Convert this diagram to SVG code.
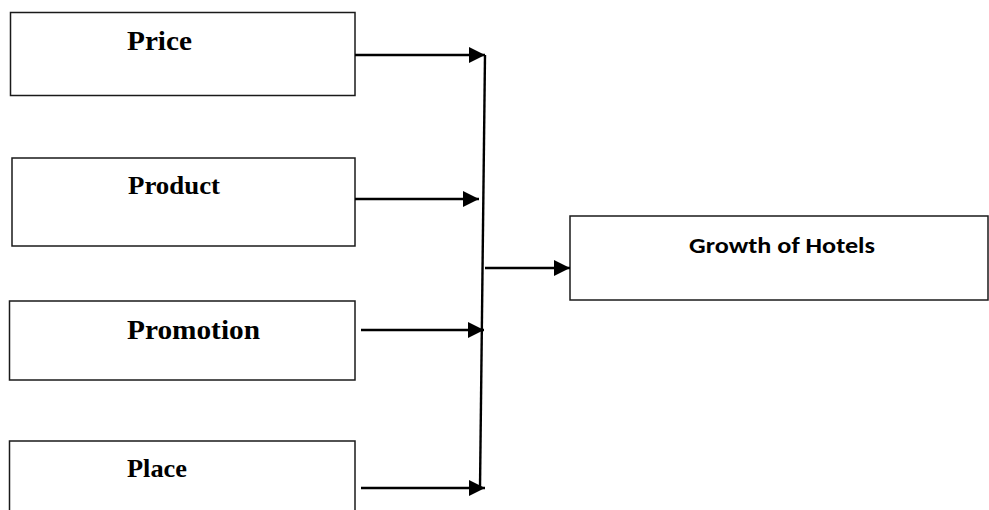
<svg xmlns="http://www.w3.org/2000/svg" width="989" height="510" viewBox="0 0 989 510">
  <style>
    .box { fill: #ffffff; stroke: #1a1a1a; stroke-width: 1.5; }
    .lbl { font-family: "Liberation Serif", "Times New Roman", serif; font-weight: bold; fill: #000; }
    .lbl2 { font-family: "Carlito", "Open Sans", "Liberation Sans", sans-serif; font-weight: bold; fill: #000; }
    .conn { stroke: #000; stroke-width: 2.4; fill: none; }
  </style>
  <defs>
    <marker id="ah" markerUnits="userSpaceOnUse" markerWidth="17" markerHeight="17" viewBox="0 0 17 17" refX="16" refY="8.5" orient="auto">
      <path d="M0,0.5 L16,8.5 L0,16.5 Z" fill="#000"/>
    </marker>
  </defs>
  <rect width="989" height="510" fill="#ffffff"/>
  <g id="price">
    <rect class="box" x="10.5" y="12.5" width="344.5" height="83"/>
    <text class="lbl" x="127" y="50" font-size="28" textLength="65" lengthAdjust="spacingAndGlyphs">Price</text>
  </g>
  <g id="product">
    <rect class="box" x="12" y="158" width="343" height="88"/>
    <text class="lbl" x="128" y="194" font-size="26" textLength="92" lengthAdjust="spacingAndGlyphs">Product</text>
  </g>
  <g id="promotion">
    <rect class="box" x="9.5" y="301" width="345.5" height="79"/>
    <text class="lbl" x="127" y="339" font-size="28" textLength="133" lengthAdjust="spacingAndGlyphs">Promotion</text>
  </g>
  <g id="place">
    <rect class="box" x="9.5" y="441" width="345.5" height="90"/>
    <text class="lbl" x="127" y="477" font-size="25.5" textLength="60" lengthAdjust="spacingAndGlyphs">Place</text>
  </g>
  <g id="growth">
    <rect class="box" x="570" y="216" width="418" height="84"/>
    <text class="lbl2" x="689" y="253" font-size="22.5" textLength="186" lengthAdjust="spacingAndGlyphs">Growth of Hotels</text>
  </g>
  <g id="connectors">
    <line class="conn" x1="485" y1="55" x2="480" y2="488"/>
    <line class="conn" x1="355" y1="55" x2="485" y2="55" marker-end="url(#ah)"/>
    <line class="conn" x1="355" y1="199" x2="479" y2="199" marker-end="url(#ah)"/>
    <line class="conn" x1="361" y1="330" x2="484" y2="330" marker-end="url(#ah)"/>
    <line class="conn" x1="361" y1="488" x2="485" y2="488" marker-end="url(#ah)"/>
    <line class="conn" x1="485" y1="268" x2="570" y2="268" marker-end="url(#ah)"/>
  </g>
</svg>
